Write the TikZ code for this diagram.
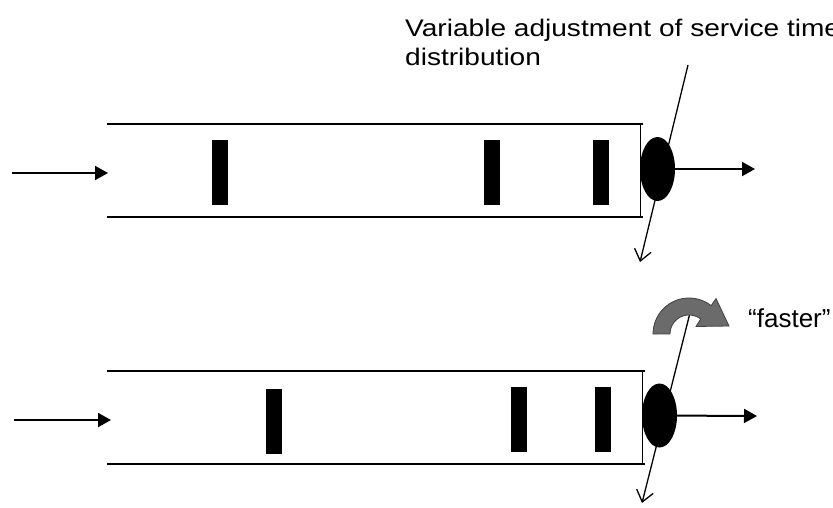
\documentclass[tikz,border=0pt]{standalone}
\usepackage{fontspec}
\setmainfont{Liberation Sans}
\newfontfamily\widesans{Liberation Sans}[FakeStretch=1.17]
\usetikzlibrary{arrows.meta,shapes.geometric}

\tikzset{
  job/.style={fill=black, minimum width=16pt, minimum height=65pt, inner sep=0pt},
  server/.style={ellipse, fill=black, minimum width=35pt, minimum height=64pt, inner sep=0pt},
  flow/.style={line width=2pt, -{Triangle[length=13pt,width=14pt]}},
  tune/.style={line width=1.3pt, -{Straight Barb[length=11pt,width=17pt]}},
  label/.style={anchor=base west, inner sep=0pt},
}

\begin{document}
\begin{tikzpicture}[x=1pt,y=-1pt]
\useasboundingbox (0,0) rectangle (833,507);
\clip (0,0) rectangle (833,507);

    % upper queue
    \coordinate (inA) at (12,173);
    \coordinate (mouthA) at (108,173);
    \coordinate (outA) at (755,169);
    \coordinate (knobA) at (688,65);
    \coordinate (dropA) at (640,262);

\draw[line width=2pt] (107,124) -- (643,124);
\draw[line width=2pt] (107,217) -- (643,217);
\draw[line width=1pt] (640,124) -- (640,217);

\node[job] (jobA1) at (220,172.5) {};
\node[job] (jobA2) at (492,172.5) {};
\node[job] (jobA3) at (601,172.5) {};
\node[server] (srvA) at (657.5,169) {};

\draw[flow] (inA) -- (mouthA);
\draw[flow] (srvA) -- (outA);
\draw[tune] (knobA) -- (dropA);

% base of a two-line node sits on its last line
\node[label, align=left, font=\widesans\fontsize{24}{28.3}\selectfont] (note) at (405,65)
  {Variable adjustment of service time\\distribution};

    % lower queue
    \coordinate (inB) at (14,420);
    \coordinate (mouthB) at (111,420);
    \coordinate (outB) at (757,416);
    \coordinate (knobB) at (692,305);
    \coordinate (dropB) at (642,503);

\draw[line width=2pt] (107,371) -- (645,371);
\draw[line width=2pt] (107,464) -- (645,464);
\draw[line width=1pt] (642,371) -- (642,464);

\node[job] (jobB1) at (273.5,421) {};
\node[job] (jobB2) at (519,419.5) {};
\node[job] (jobB3) at (603,419.5) {};
\node[server] (srvB) at (659.5,415.5) {};

\draw[flow] (inB) -- (mouthB);
\draw[flow] (srvB) -- (outB);
\draw[tune] (knobB) -- (dropB);

% curved arrow over the knob
\filldraw[fill=black!58, draw=black!75, line width=0.8pt]
  (653,334) arc[start angle=-180, end angle=-52, radius=36]
  -- (716,298.5) -- (729,326) -- (696,326.5) -- (700.7,319)
  arc[start angle=-52, end angle=-180, radius=19] -- cycle;

\node[label, font=\fontsize{26}{30}\selectfont] (fast) at (748,327) {“faster”};

\end{tikzpicture}
\end{document}
